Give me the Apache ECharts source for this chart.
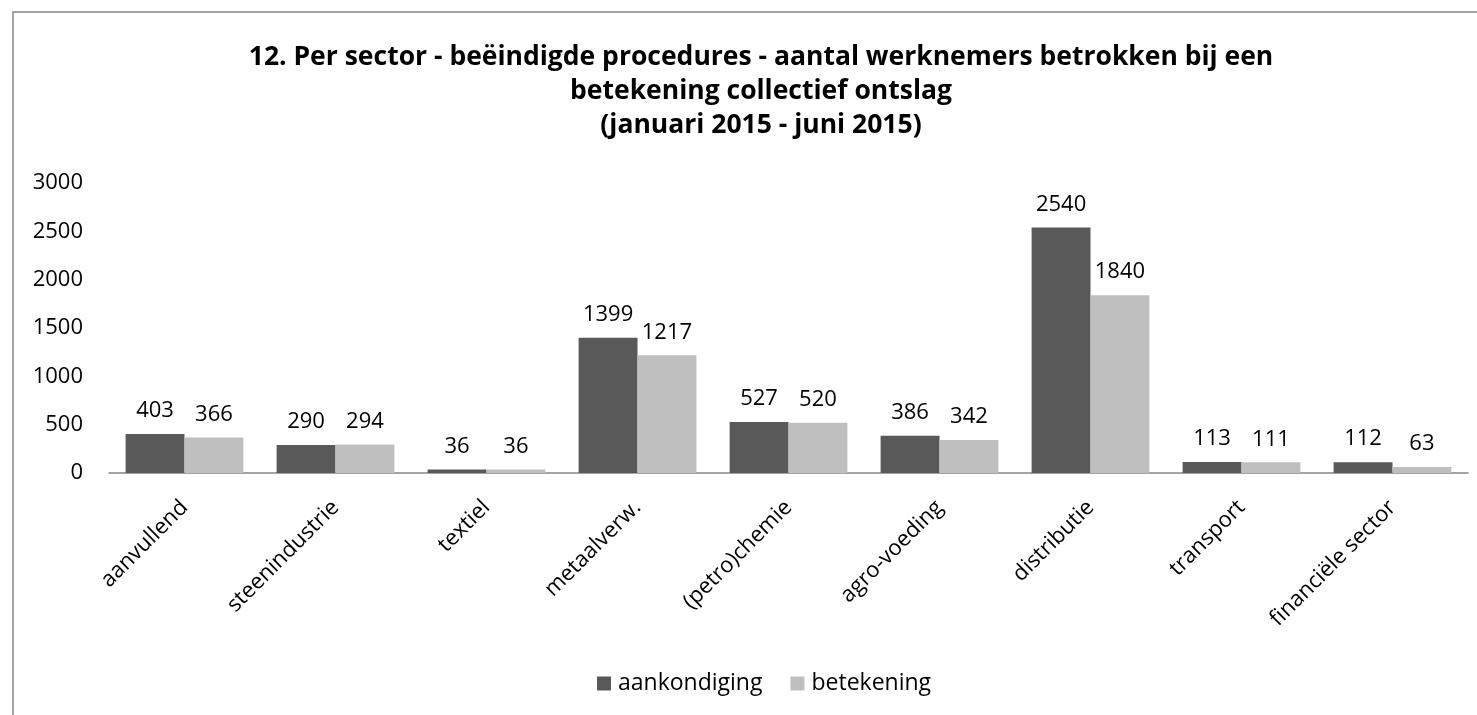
<!DOCTYPE html>
<html>
<head>
<meta charset="utf-8">
<script src="https://cdn.jsdelivr.net/npm/echarts@6/dist/echarts.min.js"></script>
<style>
  html, body { margin: 0; padding: 0; background: #fff; }
  #chart { width: 1477px; height: 715px; }
</style>
</head>
<body>
<div id="chart"></div>
<script>
var categories = ['aanvullend', 'steenindustrie', 'textiel', 'metaalverw.', '(petro)chemie',
                  'agro-voeding', 'distributie', 'transport', 'financiële sector'];
var aankondiging = [403, 290, 36, 1399, 527, 386, 2540, 113, 112];
var betekening = [366, 294, 36, 1217, 520, 342, 1840, 111, 63];
var yTicks = { min: 0, max: 3000, interval: 500 };

var FONT = '"Open Sans"';

var myChart = echarts.init(document.getElementById('chart'));

var labelStyle = {
  show: true,
  position: 'top',
  distance: 12,
  color: '#000',
  fontFamily: FONT,
  fontSize: 22
};

myChart.setOption({
  animation: false,
  backgroundColor: '#fff',
  title: {
    text: '12. Per sector - beëindigde procedures - aantal werknemers betrokken bij een\nbetekening collectief ontslag\n(januari 2015 - juni 2015)',
    left: 756,
    top: 35,
    textAlign: 'center',
    textStyle: {
      fontFamily: FONT,
      fontWeight: 'bold',
      fontSize: 26.5,
      lineHeight: 34,
      color: '#000'
    }
  },
  // chart frame, runs off the right and bottom edge like the original
  graphic: [{
    type: 'rect',
    shape: { x: 13, y: 12, width: 1520, height: 760 },
    style: { fill: 'none', stroke: '#868686', lineWidth: 1.5 },
    silent: true,
    z: -1
  }],
  legend: {
    left: 592,
    top: 667,
    itemWidth: 14,
    itemHeight: 14,
    itemGap: 28,
    icon: 'rect',
    textStyle: { fontFamily: FONT, fontSize: 23, color: '#000', padding: [0, 0, 0, 2] },
    data: ['aankondiging', 'betekening']
  },
  grid: {
    left: 109,
    right: 9,
    top: 183,
    bottom: 242
  },
  xAxis: {
    type: 'category',
    data: categories,
    axisLine: { lineStyle: { color: '#868686', width: 1.5 } },
    axisTick: { show: false },
    axisLabel: {
      rotate: 45,
      interval: 0,
      margin: 31,
      color: '#000',
      fontFamily: FONT,
      fontSize: 22
    }
  },
  yAxis: {
    type: 'value',
    min: yTicks.min,
    max: yTicks.max,
    interval: yTicks.interval,
    axisLine: { show: false },
    axisTick: { show: false },
    splitLine: { show: false },
    axisLabel: {
      margin: 26,
      color: '#000',
      fontFamily: FONT,
      fontSize: 22,
      formatter: function (v) { return String(v); }
    }
  },
  series: [
    {
      name: 'aankondiging',
      type: 'bar',
      data: aankondiging,
      barGap: 0,
      barCategoryGap: '22%',
      itemStyle: { color: '#595959' },
      label: labelStyle
    },
    {
      name: 'betekening',
      type: 'bar',
      data: betekening,
      itemStyle: { color: '#bfbfbf' },
      label: labelStyle
    }
  ]
});
</script>
</body>
</html>
